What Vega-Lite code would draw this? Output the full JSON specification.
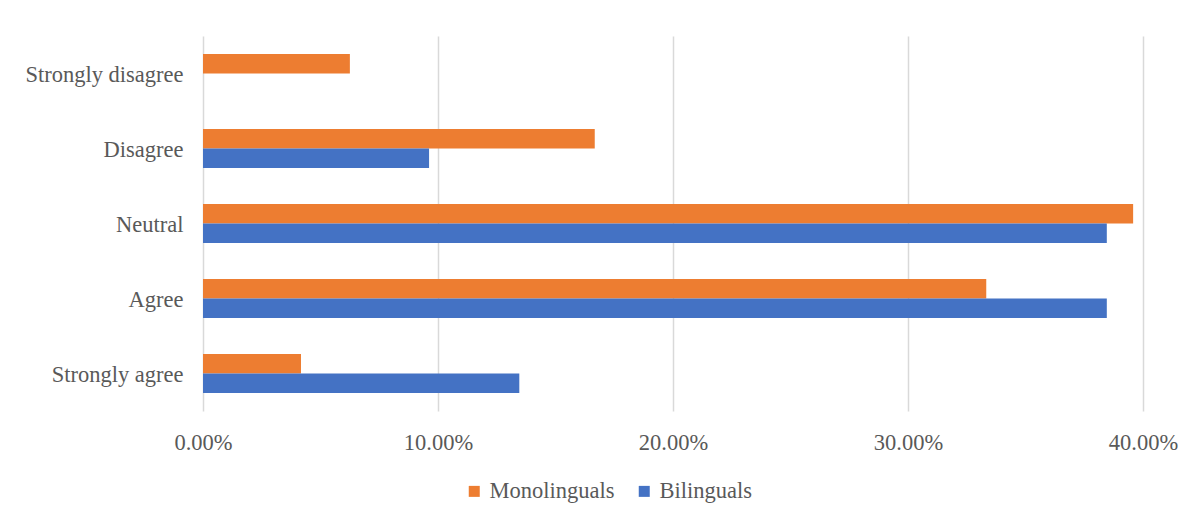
{
  "$schema": "https://vega.github.io/schema/vega-lite/v6.json",
  "autosize": {"type": "none"},
  "padding": {"left": 203, "top": 36, "right": 55, "bottom": 105},
  "width": 940,
  "height": 375,
  "background": "white",
  "data": {
    "values": [
      {"response": "Strongly disagree", "group": "Monolinguals", "pct": 0.0625},
      {"response": "Strongly disagree", "group": "Bilinguals", "pct": 0.0},
      {"response": "Disagree", "group": "Monolinguals", "pct": 0.1667},
      {"response": "Disagree", "group": "Bilinguals", "pct": 0.0962},
      {"response": "Neutral", "group": "Monolinguals", "pct": 0.3958},
      {"response": "Neutral", "group": "Bilinguals", "pct": 0.3846},
      {"response": "Agree", "group": "Monolinguals", "pct": 0.3333},
      {"response": "Agree", "group": "Bilinguals", "pct": 0.3846},
      {"response": "Strongly agree", "group": "Monolinguals", "pct": 0.0417},
      {"response": "Strongly agree", "group": "Bilinguals", "pct": 0.1346}
    ]
  },
  "mark": {"type": "bar"},
  "encoding": {
    "y": {
      "field": "response",
      "type": "nominal",
      "sort": ["Strongly disagree", "Disagree", "Neutral", "Agree", "Strongly agree"],
      "scale": {"paddingInner": 0.48, "paddingOuter": 0.24},
      "axis": {
        "title": null,
        "domain": false,
        "ticks": false,
        "labelPadding": 20,
        "labelFont": "Liberation Serif",
        "labelFontSize": 22.5,
        "labelColor": "#595959",
        "labelBaseline": "middle",
        "labelOffset": 1
      }
    },
    "yOffset": {
      "field": "group",
      "type": "nominal",
      "sort": ["Monolinguals", "Bilinguals"]
    },
    "x": {
      "field": "pct",
      "type": "quantitative",
      "scale": {"domain": [0, 0.4], "nice": false},
      "axis": {
        "title": null,
        "format": ".2%",
        "values": [0, 0.1, 0.2, 0.3, 0.4],
        "domain": false,
        "ticks": false,
        "grid": true,
        "gridColor": "#d9d9d9",
        "gridWidth": 1.5,
        "labelPadding": 20,
        "labelFont": "Liberation Serif",
        "labelFontSize": 22.5,
        "labelColor": "#595959",
        "labelFlush": false
      }
    },
    "color": {
      "field": "group",
      "type": "nominal",
      "sort": ["Monolinguals", "Bilinguals"],
      "scale": {"domain": ["Monolinguals", "Bilinguals"], "range": ["#ED7D31", "#4472C4"]},
      "legend": {
        "title": null,
        "orient": "none",
        "direction": "horizontal",
        "legendX": 260,
        "legendY": 444,
        "symbolType": "square",
        "symbolSize": 121,
        "symbolStrokeWidth": 0,
        "symbolOpacity": 1,
        "labelFont": "Liberation Serif",
        "labelFontSize": 22.5,
        "labelColor": "#595959",
        "labelOffset": 4,
        "columnPadding": 18
      }
    }
  },
  "config": {
    "font": "Liberation Serif",
    "view": {"stroke": null}
  }
}
